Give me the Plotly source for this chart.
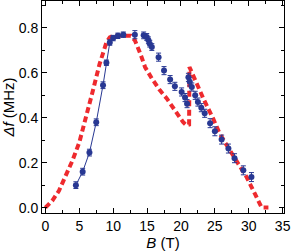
import plotly.graph_objects as go

# Measured data (blue) - connected part
b_line = [4.5, 5.5, 6.5, 7.5, 8.5, 9.0, 9.5, 10.0, 10.7, 11.5]
f_line = [0.10, 0.16, 0.245, 0.38, 0.545, 0.645, 0.735, 0.755, 0.765, 0.77]
e_line = [0.015, 0.015, 0.015, 0.015, 0.015, 0.012, 0.012, 0.012, 0.012, 0.012]

# Measured data (blue) - points only
b_pts = [13.2, 14.5, 14.95, 15.2, 15.4, 15.7, 16.7, 17.5, 18.4, 19.1, 20.1, 20.6, 20.9,
         21.1, 21.3, 21.6, 22.1, 22.5, 23.0, 23.5, 24.3, 25.0, 26.0, 27.0, 27.9, 29.2, 30.4]
f_pts = [0.77, 0.767, 0.76, 0.745, 0.73, 0.715, 0.67, 0.61, 0.57, 0.54, 0.515, 0.49, 0.463,
         0.58, 0.56, 0.537, 0.50, 0.47, 0.445, 0.42, 0.376, 0.34, 0.303, 0.263, 0.22, 0.166, 0.136]
e_pts = [0.018, 0.015, 0.015, 0.015, 0.015, 0.015, 0.018, 0.018, 0.018, 0.018, 0.018, 0.018, 0.018,
         0.018, 0.018, 0.018, 0.018, 0.018, 0.018, 0.018, 0.02, 0.02, 0.02, 0.02, 0.02, 0.02, 0.02]

# Model curve (red dashed)
b_model = [0, 1, 2, 3, 4, 5, 6, 7, 8, 9, 9.5, 10, 12.6, 13.2, 14.0, 14.7, 15.7, 16.9, 17.9,
           18.4, 19.4, 20.3, 20.8, 21.2, 21.25, 22.3, 23.3, 24.75, 25.7, 26.5, 28.2, 29.7, 30.9, 31.9, 32.9]
f_model = [0.0, 0.03, 0.075, 0.14, 0.21, 0.29, 0.40, 0.52, 0.64, 0.735, 0.758, 0.765, 0.765, 0.745,
           0.686, 0.626, 0.575, 0.522, 0.486, 0.463, 0.419, 0.381, 0.367, 0.37, 0.626, 0.552,
           0.486, 0.396, 0.33, 0.29, 0.21, 0.135, 0.062, 0.0, 0.0]

x_ticks = [0, 5, 10, 15, 20, 25, 30, 35]
y_ticks = [0.0, 0.2, 0.4, 0.6, 0.8]

BLUE = "#283893"
RED = "#ee2a2e"
FONT = "Liberation Sans, Arial, sans-serif"

fig = go.Figure()
fig.add_trace(go.Scatter(
    x=b_model, y=f_model, mode="lines",
    line=dict(color=RED, width=4, dash="6px,3.5px"),
    showlegend=False, hoverinfo="skip"))
fig.add_trace(go.Scatter(
    x=b_line, y=f_line, mode="lines+markers",
    line=dict(color=BLUE, width=1),
    marker=dict(color=BLUE, size=6, symbol="circle"),
    error_y=dict(type="data", array=e_line, color=BLUE, thickness=1, width=2.5),
    showlegend=False))
fig.add_trace(go.Scatter(
    x=b_pts, y=f_pts, mode="markers",
    marker=dict(color=BLUE, size=6, symbol="circle"),
    error_y=dict(type="data", array=e_pts, color=BLUE, thickness=1, width=2.5),
    showlegend=False))

axis_common = dict(
    showgrid=False, zeroline=False, showline=True, linecolor="black", linewidth=1,
    mirror="allticks", ticks="inside", ticklen=5, tickwidth=1, tickcolor="black",
    tickfont=dict(family=FONT, size=14, color="black"),
    automargin=False,
)

fig.update_xaxes(
    range=[-0.5, 35.2], tickvals=x_ticks, ticktext=[str(v) for v in x_ticks],
    minor=dict(ticks="inside", dtick=2.5, tick0=0, ticklen=3, tickcolor="black"),
    title=dict(text="<i>B</i> (T)", font=dict(family=FONT, size=15, color="black"), standoff=1),
    **axis_common)
fig.update_yaxes(
    range=[-0.024, 0.92], tickvals=y_ticks, ticktext=[f"{v:.1f}" for v in y_ticks],
    minor=dict(ticks="inside", dtick=0.1, tick0=0, ticklen=3, tickcolor="black"),
    title=dict(text="<i>Δf</i> (MHz)", font=dict(family=FONT, size=15, color="black"), standoff=1),
    **axis_common)

fig.update_layout(
    width=291, height=251,
    margin=dict(l=42, r=7, t=1, b=38),
    paper_bgcolor="white", plot_bgcolor="white",
)

fig.write_html("out.html", config={"displayModeBar": False},
               post_script="document.body.style.margin='0px';")
